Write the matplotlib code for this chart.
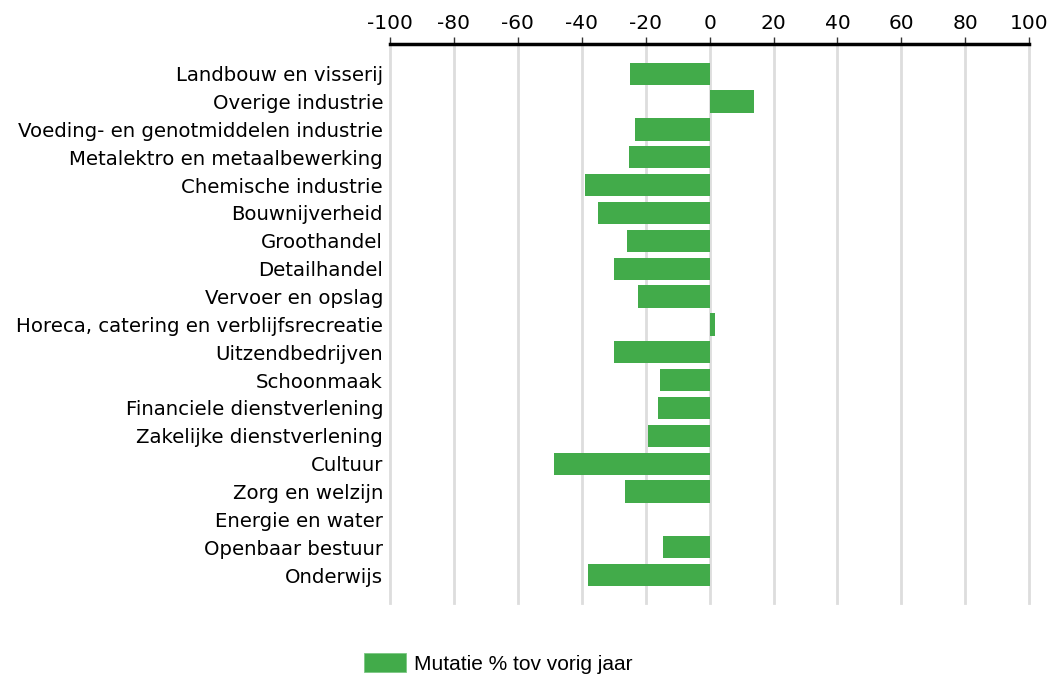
import matplotlib
matplotlib.use('Agg')
import matplotlib.pyplot as plt
from matplotlib.patches import Patch

categories = [
    'Landbouw en visserij',
    'Overige industrie',
    'Voeding- en genotmiddelen industrie',
    'Metalektro en metaalbewerking',
    'Chemische industrie',
    'Bouwnijverheid',
    'Groothandel',
    'Detailhandel',
    'Vervoer en opslag',
    'Horeca, catering en verblijfsrecreatie',
    'Uitzendbedrijven',
    'Schoonmaak',
    'Financiele dienstverlening',
    'Zakelijke dienstverlening',
    'Cultuur',
    'Zorg en welzijn',
    'Energie en water',
    'Openbaar bestuur',
    'Onderwijs',
]
mutatie = [-24.9, 14.0, -23.4, -25.3, -39.0, -34.9, -25.8, -29.9, -22.5, 1.8,
           -29.9, -15.6, -16.3, -19.3, -48.8, -26.5, 0.0, -14.5, -38.1]
xticks = [-100, -80, -60, -40, -20, 0, 20, 40, 60, 80, 100]

green = '#42ab4a'

fig = plt.figure(figsize=(10.54, 6.79), dpi=100)
ax = fig.add_axes([0.370, 0.112, 0.6065, 0.8225])

ypos = list(range(len(categories)))
ax.barh(ypos, mutatie, height=0.8, color=green, linewidth=0, zorder=3)

ax.set_xlim(-100, 100)
ax.set_ylim(len(categories) - 0.0, -1.05)
ax.set_xticks(xticks)
ax.set_xticklabels([str(t) for t in xticks], fontsize=14.5, family='DejaVu Sans')
ax.xaxis.tick_top()
ax.tick_params(axis='x', length=5, width=1, color='#333333', pad=3, top=True, bottom=False)
ax.set_yticks(ypos)
ax.set_yticklabels(categories, fontsize=14.2, family='DejaVu Sans')
ax.tick_params(axis='y', length=0, pad=5)

ax.grid(axis='x', color='#dddddd', linewidth=2, zorder=0)
for gl in ax.get_xgridlines():
    gl.set_clip_on(False)
for s in ['left', 'right', 'bottom']:
    ax.spines[s].set_visible(False)
ax.spines['top'].set_linewidth(2.5)
ax.spines['top'].set_color('black')
ax.spines['top'].set_zorder(5)

handle = Patch(facecolor=green, edgecolor='#7cc783', linewidth=0.6)
fig.legend([handle], ['Mutatie % tov vorig jaar'], loc='center', bbox_to_anchor=(0.473, 0.023),
           frameon=False, prop={'family': 'Liberation Sans', 'size': 15},
           handlelength=2.0, handleheight=1.0, handletextpad=0.4)

fig.savefig('out.png', dpi=100)
